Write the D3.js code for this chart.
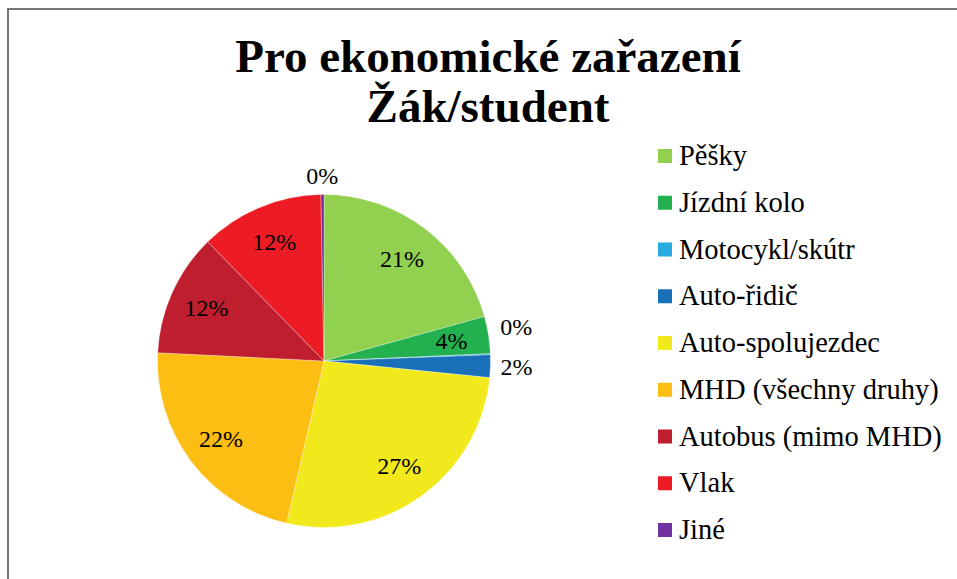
<!DOCTYPE html>
<html>
<head>
<meta charset="utf-8">
<script src="https://cdn.jsdelivr.net/npm/d3@7"></script>
<style>
  html, body { margin: 0; padding: 0; background: #fff; }
  svg { display: block; }
  .title { font-family: "Liberation Serif", serif; font-weight: bold; font-size: 47px; fill: #000; }
  .slice-label { font-family: "Liberation Serif", serif; font-size: 24px; fill: #000; }
  .legend-label { font-family: "Liberation Serif", serif; font-size: 28.5px; fill: #000; }
</style>
</head>
<body>
<svg id="chart" width="957" height="579"></svg>
<script>
/* Pie chart: modes of transport for pupils/students */

const titleLines = ['Pro ekonomické zařazení', 'Žák/student'];

const categories = [
    'Pěšky',
    'Jízdní kolo',
    'Motocykl/skútr',
    'Auto-řidič',
    'Auto-spolujezdec',
    'MHD (všechny druhy)',
    'Autobus (mimo MHD)',
    'Vlak',
    'Jiné',
];

// share in percent
const shares = [20.7, 3.6, 0.1, 2.2, 27.0, 22.2, 11.9, 12.0, 0.3];

const colors = [
    '#92d050', '#23b04e', '#29abe2', '#1a70b8', '#f2e91c',
    '#fdbe14', '#be1e2d', '#ed1c24', '#7030a0',
];

const width = 957;
const height = 579;
const center = { x: 324, y: 361 };
const radius = 166.5;
const insideRadius = 129;
const outsideGap = 10;
const smallShare = 3; // slices below this get their label outside

const svg = d3.select('#chart');

// frame of the chart area (runs off the right and bottom edge)
svg.append('rect')
    .attr('x', 8).attr('y', 9)
    .attr('width', width + 20).attr('height', height + 20)
    .attr('fill', 'none')
    .attr('stroke', '#777')
    .attr('stroke-width', 2);

svg.selectAll('.title')
    .data(titleLines)
    .join('text')
    .attr('class', 'title')
    .attr('x', 488)
    .attr('y', (d, i) => 72 + i * 50)
    .attr('text-anchor', 'middle')
    .text((d) => d);

const data = categories.map((name, i) => ({ name, value: shares[i], color: colors[i] }));

const pie = d3.pie().sort(null).value((d) => d.value);
const arcs = pie(data);
const total = d3.sum(shares);

const arc = d3.arc().innerRadius(0).outerRadius(radius);
const labelArc = d3.arc().innerRadius(insideRadius).outerRadius(insideRadius);

const g = svg.append('g').attr('transform', `translate(${center.x},${center.y})`);

g.selectAll('path.slice')
    .data(arcs)
    .join('path')
    .attr('class', 'slice')
    .attr('d', arc)
    .attr('fill', (d) => d.data.color)
    .attr('stroke', '#fff')
    .attr('stroke-opacity', 0.5)
    .attr('stroke-width', 0.6);

const fmt = (d) => `${Math.round((d.data.value / total) * 100)}%`;

// label placement: inside at fixed radius, small slices just outside the rim
const labels = arcs.map((d) => {
    const mid = (d.startAngle + d.endAngle) / 2;
    if (d.data.value >= smallShare) {
        const [x, y] = labelArc.centroid(d);
        return { d, x, y, anchor: 'middle' };
    }
    const r = radius + outsideGap;
    const sx = Math.sin(mid);
    const cy = -Math.cos(mid);
    let anchor = 'middle';
    let y = r * cy;
    if (Math.abs(sx) < 0.3) {
        y += cy < 0 ? -9 : 9;
    } else {
        anchor = sx > 0 ? 'start' : 'end';
    }
    return { d, x: r * sx, y, anchor, outside: true };
});

// push overlapping outside labels apart (upper one moves up)
const minGap = 40;
const rightSide = labels.filter((l) => l.outside && l.anchor === 'start').sort((a, b) => b.y - a.y);
for (let i = 1; i < rightSide.length; i++) {
    const below = rightSide[i - 1];
    if (below.y - rightSide[i].y < minGap) rightSide[i].y = below.y - minGap;
}

g.selectAll('text.slice-label')
    .data(labels)
    .join('text')
    .attr('class', 'slice-label')
    .attr('x', (l) => l.x)
    .attr('y', (l) => l.y)
    .attr('dy', '0.35em')
    .attr('text-anchor', (l) => l.anchor)
    .text((l) => fmt(l.d));

// legend
const legendY = d3.scalePoint()
    .domain(categories)
    .range([149, 523]);

const legend = svg.append('g')
    .selectAll('g')
    .data(data)
    .join('g')
    .attr('transform', (d) => `translate(658,${legendY(d.name)})`);

legend.append('rect')
    .attr('width', 14)
    .attr('height', 14)
    .attr('fill', (d) => d.color);

legend.append('text')
    .attr('class', 'legend-label')
    .attr('x', 21)
    .attr('y', 16)
    .text((d) => d.name);
</script>
</body>
</html>
